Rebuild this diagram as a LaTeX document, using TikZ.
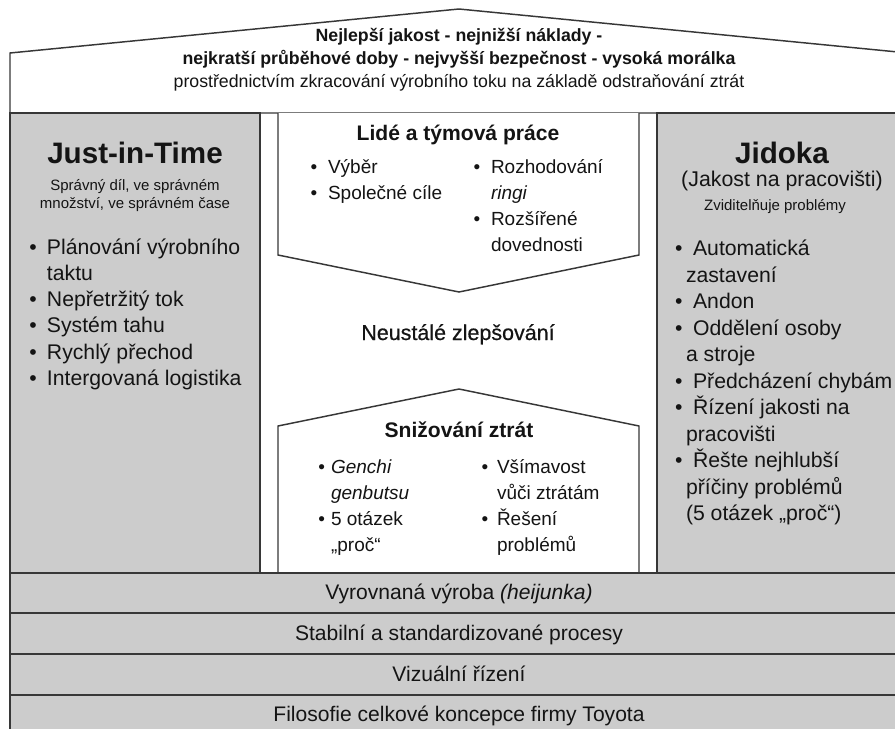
\documentclass[tikz,border=0pt]{standalone}
\usepackage{fontspec}
\setmainfont{Liberation Sans}
\newfontfamily\mediumfont[FakeBold=0.6]{Liberation Sans}
\definecolor{pillar}{RGB}{204,204,204}
\definecolor{edge}{RGB}{55,55,55}
\definecolor{ink}{RGB}{20,20,20}
\newcommand{\fs}[2]{\fontsize{#1}{#2}\selectfont}

\begin{document}
\begin{tikzpicture}[x=0.75pt,y=-0.75pt,
  frame/.style={draw=edge, line width=1.1pt, line join=miter},
  txt/.style={inner sep=0pt, outer sep=0pt, text=ink},
]
\useasboundingbox (0,0) rectangle (895,728);
\clip (0,0) rectangle (895,728);

% roof
\draw[frame, fill=white] (10,113) -- (10,53) -- (459,9) -- (908,53) -- (908,113) -- cycle;

% pillars
\draw[frame, fill=pillar] (10,113) rectangle (260,573);
\draw[frame, fill=pillar] (657,113) rectangle (908,573);

% centre: people arrow and waste-reduction house
\draw[frame, fill=white] (278,113) -- (278,255) -- (459,292) -- (639,255) -- (639,113);
\draw[frame, fill=white] (278,573) -- (278,426) -- (459,389) -- (639,426) -- (639,573);

% foundation layers
\draw[frame, fill=pillar] (10,573) rectangle (908,613);
\draw[frame, fill=pillar] (10,613) rectangle (908,654);
\draw[frame, fill=pillar] (10,654) rectangle (908,695);
\draw[frame, fill=pillar] (10,695) rectangle (908,736);

% roof text
\node[txt, anchor=base] (goal1) at (459,41) {\fs{13.3}{17}\bfseries Nejlepší jakost - nejnižší náklady -};
\node[txt, anchor=base] (goal2) at (459,64) {\fs{13.3}{17}\bfseries nejkratší průběhové doby - nejvyšší bezpečnost - vysoká morálka};
\node[txt, anchor=base] (goal3) at (459,87) {\fs{13.3}{17}prostřednictvím zkracování výrobního toku na základě odstraňování ztrát};

% left pillar
\node[txt, anchor=base] (jit) at (135,163) {\fs{22.2}{26}\bfseries Just-in-Time};
\node[txt, anchor=base] (jitsub) at (135,190) {\fs{11.25}{13.5}\begin{tabular}[t]{@{}c@{}}Správný díl, ve správném\\ množství, ve správném čase\end{tabular}};
\node[txt, anchor=base west] (jitlist) at (29.3,254) {\fs{15.9}{19.7}\begin{tabular}[t]{@{}l@{\hspace{7.7pt}}l@{}}
• & Plánování výrobního\\
  & taktu\\
• & Nepřetržitý tok\\
• & Systém tahu\\
• & Rychlý přechod\\
• & Intergovaná logistika
\end{tabular}};

% right pillar
\node[txt, anchor=base] (jid) at (782,163) {\fs{22.2}{26}\bfseries Jidoka};
\node[txt, anchor=base] (jidsub) at (782,186) {\fs{16}{19}(Jakost na pracovišti)};
\node[txt, anchor=base] (jidsub2) at (775,210) {\fs{11.25}{13.5}Zviditelňuje problémy};
\node[txt, anchor=base west] (jidlist) at (675,255.5) {\fs{15.9}{19.9}\begin{tabular}[t]{@{}l@{}}
•\hspace{8pt}Automatická\\
\hspace*{8.25pt}zastavení\\
•\hspace{8pt}Andon\\
•\hspace{8pt}Oddělení osoby\\
\hspace*{8.25pt}a stroje\\
•\hspace{8pt}Předcházení chybám\\
•\hspace{8pt}Řízení jakosti na\\
\hspace*{8.25pt}pracovišti\\
•\hspace{8pt}Řešte nejhlubší\\
\hspace*{8.25pt}příčiny problémů\\
\hspace*{8.25pt}(5 otázek „proč“)
\end{tabular}};

% people and teamwork
\node[txt, anchor=base] (team) at (458,140) {\fs{15.8}{19}\bfseries Lidé a týmová práce};
\node[txt, anchor=base west] (teamA) at (310.7,173) {\fs{14.25}{19.5}\begin{tabular}[t]{@{}l@{\hspace{8pt}}l@{}}
• & Výběr\\
• & Společné cíle
\end{tabular}};
\node[txt, anchor=base west] (teamB) at (473.7,173) {\fs{14.25}{19.5}\begin{tabular}[t]{@{}l@{\hspace{8pt}}l@{}}
• & Rozhodování\\
  & \textit{ringi}\\
• & Rozšířené\\
  & dovednosti
\end{tabular}};

% continuous improvement
\node[txt, anchor=base] (kaizen) at (458,340) {\fs{16.1}{19}\mediumfont Neustálé zlepšování};

% waste reduction
\node[txt, anchor=base] (waste) at (459,437) {\fs{15.8}{19}\bfseries Snižování ztrát};
\node[txt, anchor=base west] (wasteA) at (318.4,473) {\fs{14.25}{19.7}\begin{tabular}[t]{@{}l@{\hspace{4.5pt}}l@{}}
• & \textit{Genchi}\\
  & \textit{genbutsu}\\
• & 5 otázek\\
  & „proč“
\end{tabular}};
\node[txt, anchor=base west] (wasteB) at (481.7,473) {\fs{14.25}{19.7}\begin{tabular}[t]{@{}l@{\hspace{6.5pt}}l@{}}
• & Všímavost\\
  & vůči ztrátám\\
• & Řešení\\
  & problémů
\end{tabular}};

% foundation text
\node[txt, anchor=base] (heij) at (459,599.5) {\fs{15.8}{19}Vyrovnaná výroba \textit{(heijunka)}};
\node[txt, anchor=base] (stab) at (459,640) {\fs{15.8}{19}Stabilní a standardizované procesy};
\node[txt, anchor=base] (vis) at (459,681) {\fs{15.8}{19}Vizuální řízení};
\node[txt, anchor=base] (phil) at (459,721.5) {\fs{15.8}{19}Filosofie celkové koncepce firmy Toyota};
\end{tikzpicture}
\end{document}
